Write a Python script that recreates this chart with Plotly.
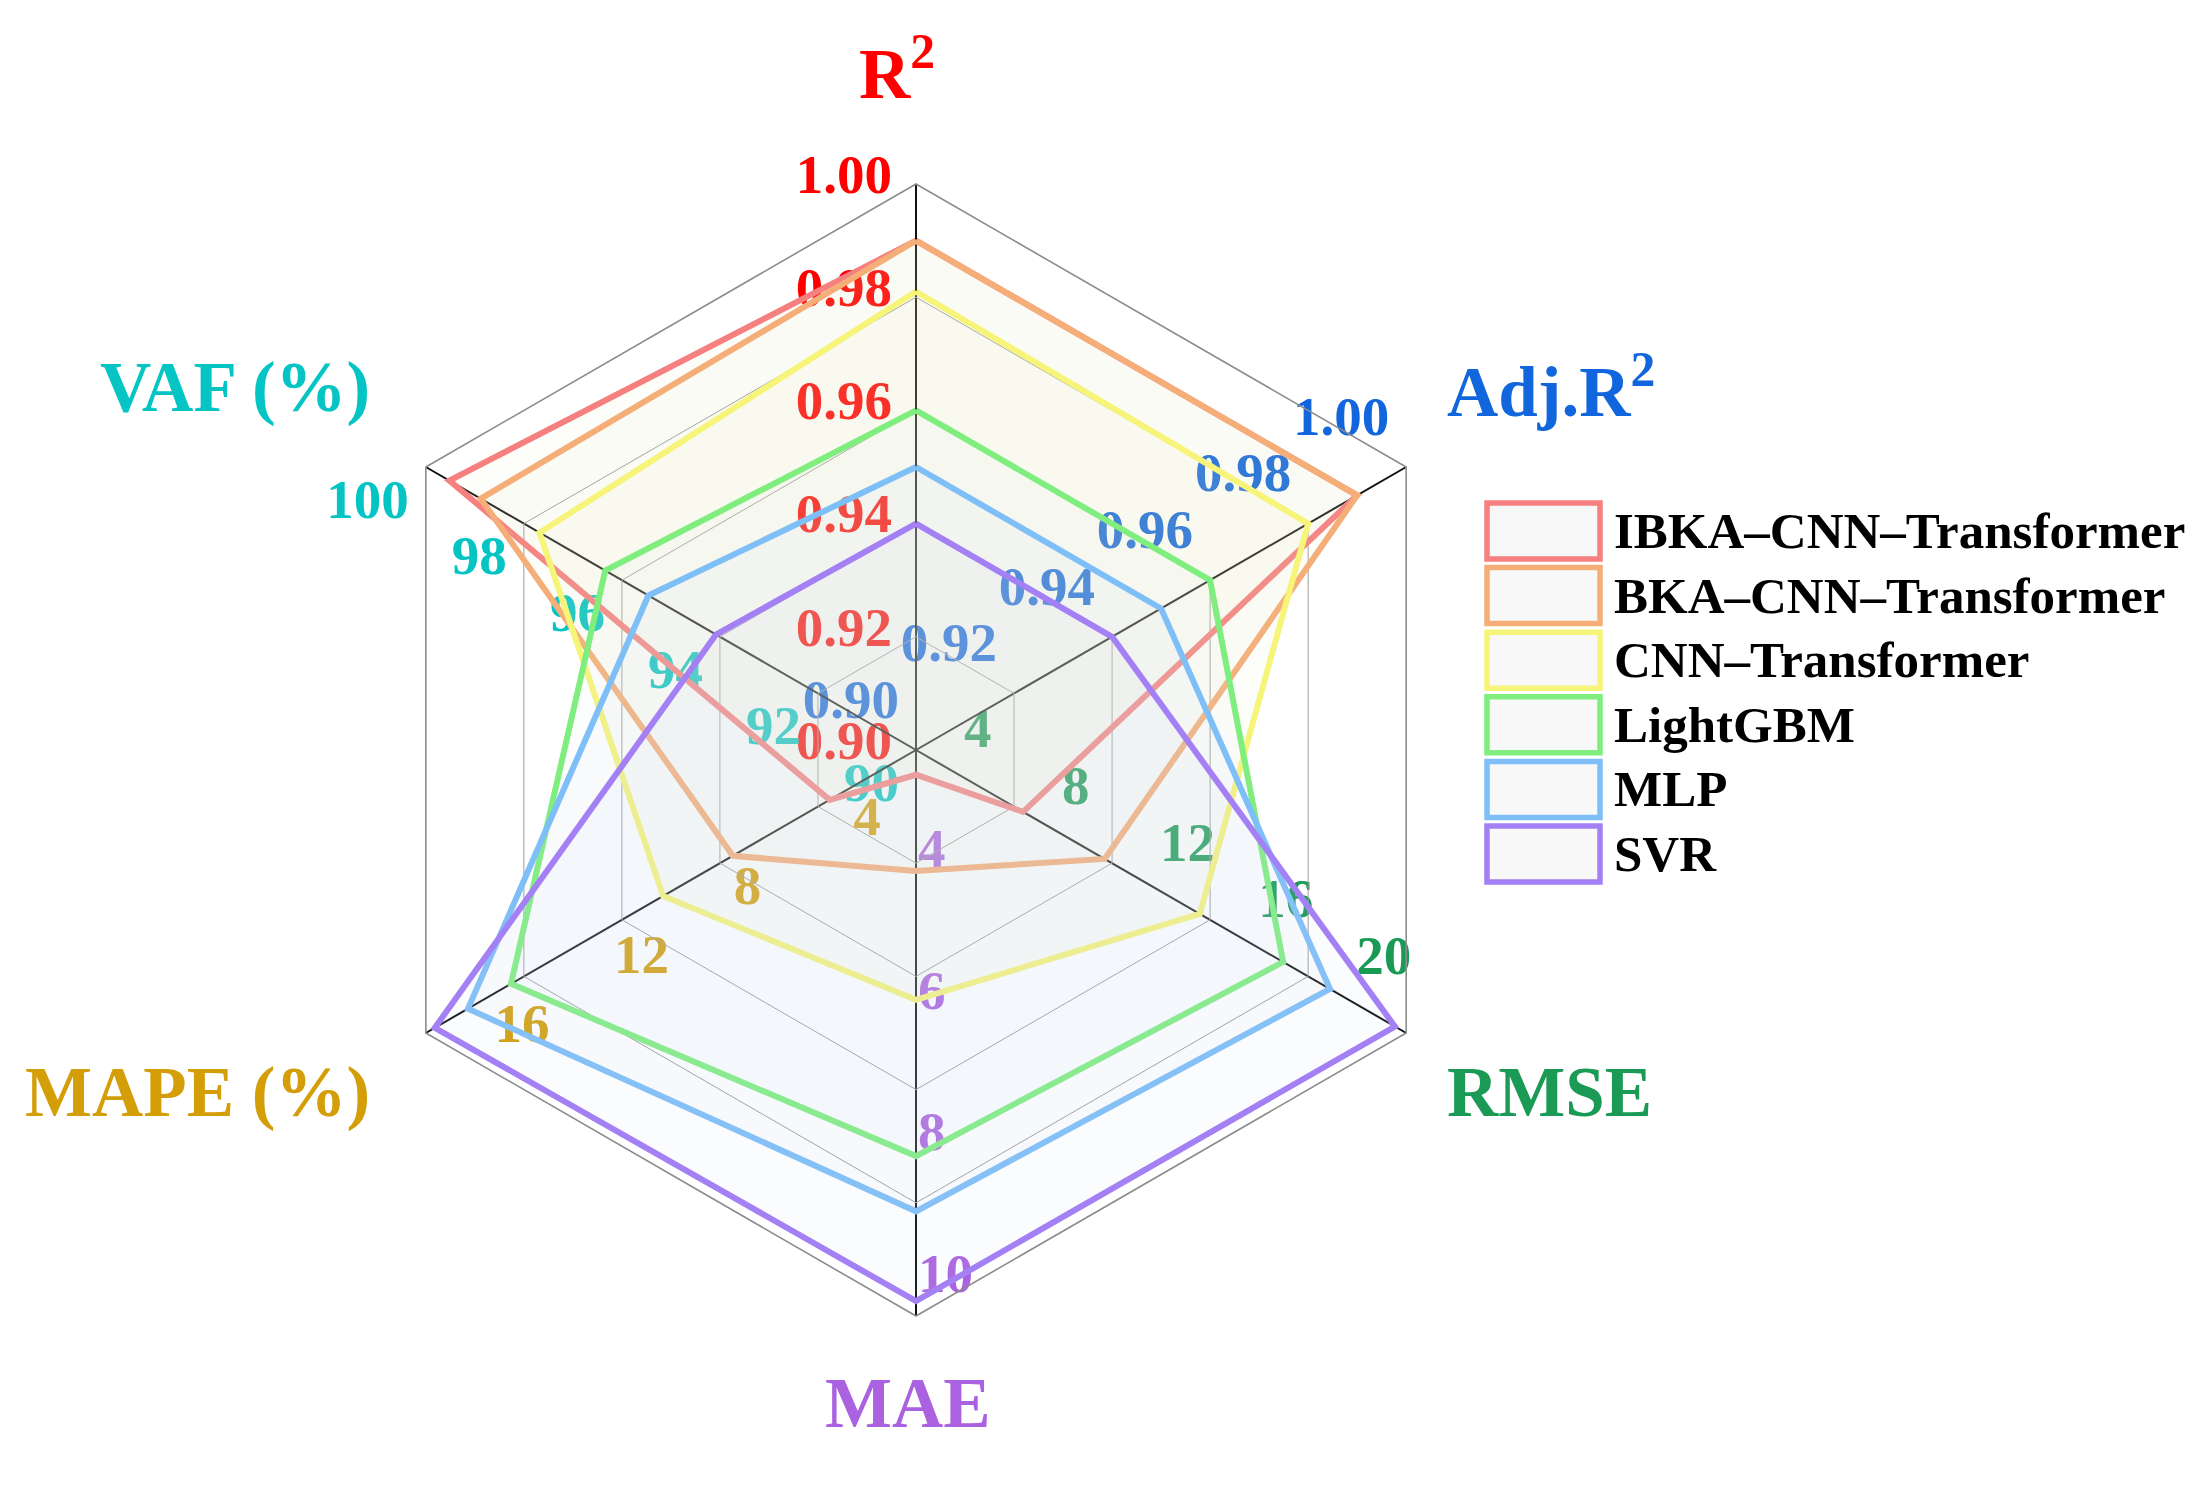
import math
import plotly.graph_objects as go

# ---------------- data ----------------
axes = ["R²", "Adj.R²", "RMSE", "MAE", "MAPE (%)", "VAF (%)"]
axis_titles = ["R<sup>2</sup>", "Adj.R<sup>2</sup>", "RMSE", "MAE", "MAPE (%)", "VAF (%)"]
axis_min = [0.90, 0.90, 0.0, 2.0, 2.0, 90.0]
axis_max = [1.00, 1.00, 20.0, 10.0, 18.4, 100.0]
axis_ticks = [
    [0.90, 0.92, 0.94, 0.96, 0.98, 1.00],
    [0.90, 0.92, 0.94, 0.96, 0.98, 1.00],
    [4, 8, 12, 16, 20],
    [4, 6, 8, 10],
    [4, 8, 12, 16],
    [90, 92, 94, 96, 98, 100],
]
axis_tick_text = [
    ["0.90", "0.92", "0.94", "0.96", "0.98", "1.00"],
    ["0.90", "0.92", "0.94", "0.96", "0.98", "1.00"],
    ["4", "8", "12", "16", "20"],
    ["4", "6", "8", "10"],
    ["4", "8", "12", "16"],
    ["90", "92", "94", "96", "98", "100"],
]

models = ["IBKA–CNN–Transformer", "BKA–CNN–Transformer", "CNN–Transformer",
          "LightGBM", "MLP", "SVR"]
r2 = [0.990, 0.990, 0.981, 0.960, 0.950, 0.940]
adj_r2 = [0.990, 0.990, 0.980, 0.960, 0.950, 0.940]
rmse = [4.37, 7.70, 11.58, 14.98, 16.89, 19.54]
mae = [2.35, 3.71, 5.53, 7.74, 8.52, 9.79]
mape = [4.89, 8.13, 10.46, 15.55, 16.99, 18.10]
vaf = [99.52, 98.88, 97.68, 96.34, 95.46, 94.08]
metric_values = [r2, adj_r2, rmse, mae, mape, vaf]

# ---------------- style ----------------
W, H = 2205, 1492
CX, CY, RPX = 908, 742, 566          # polar centre / radius in pixels
LABEL_SCALE = 1.2                    # label subplot extends beyond the grid
FONT = "Liberation Serif"
model_colors = ["#F67F7F", "#F5AE78", "#F7F47A", "#7FEE7F", "#7FBFF7", "#A480F5"]
fill_colors = ["rgba(232,224,196,0.08)", "rgba(232,226,196,0.08)",
               "rgba(234,234,196,0.08)", "rgba(214,230,228,0.08)",
               "rgba(206,222,242,0.08)", "rgba(210,216,242,0.08)"]
axis_colors = ["#FF0000", "#1166DD", "#1A9A55", "#AA62E0", "#D49E08", "#05C4C4"]
# label anchor offsets in px (dx right, dy down) and text position
label_style = [
    (-24, -5, "middle left"),
    (-17, -46, "middle left"),
    (-50, -73, "middle right"),
    (2, -38, "middle right"),
    (-3, 37, "middle right"),
    (-17, 37, "middle left"),
]
title_pos = [  # (x px, y px, xanchor)
    (889, 60, "center"),
    (1437, 378, "left"),
    (1437, 1084, "left"),
    (900, 1395, "center"),
    (364, 1084, "right"),
    (364, 380, "right"),
]

def pdom(c, half, total):
    return [(c - half) / total, (c + half) / total]

grid_dom = dict(x=pdom(CX, RPX, W), y=pdom(H - CY, RPX, H))
label_dom = dict(x=pdom(CX, RPX * LABEL_SCALE, W), y=pdom(H - CY, RPX * LABEL_SCALE, H))

fig = go.Figure()

# ---- tick labels (bottom subplot "polar", numeric angle) ----
for i, ax in enumerate(axes):
    lo, hi = axis_min[i], axis_max[i]
    dx, dy, pos = label_style[i]
    th = math.radians(60 * i)
    rr, tt = [], []
    for t in axis_ticks[i]:
        f = (t - lo) / (hi - lo)
        x = f * RPX * math.sin(th) + dx
        y = f * RPX * math.cos(th) - dy
        rr.append(math.hypot(x, y) / RPX)
        tt.append(math.degrees(math.atan2(x, y)) % 360)
    fig.add_trace(go.Scatterpolar(
        r=rr, theta=tt, mode="text", text=axis_tick_text[i],
        textposition=pos, cliponaxis=False, subplot="polar",
        textfont=dict(family=FONT, size=55, color=axis_colors[i], weight="bold"),
        showlegend=False, hoverinfo="skip"))

# ---- series polygons (top subplot "polar2", category angle) ----
for k, name in enumerate(models):
    rv = [(metric_values[i][k] - axis_min[i]) / (axis_max[i] - axis_min[i])
          for i in range(len(axes))]
    fig.add_trace(go.Scatterpolar(
        r=rv + rv[:1], theta=axes + axes[:1], mode="lines", name=name,
        fill="toself", fillcolor=fill_colors[k],
        line=dict(color=model_colors[k], width=6), subplot="polar2",
        showlegend=False))

fig.update_layout(
    width=W, height=H, paper_bgcolor="white",
    margin=dict(l=0, r=0, t=0, b=0, autoexpand=False),
    polar=dict(
        domain=label_dom, bgcolor="white",
        angularaxis=dict(type="linear", thetaunit="degrees", rotation=90,
                         direction="clockwise", visible=False),
        radialaxis=dict(range=[0, LABEL_SCALE], visible=False),
    ),
    polar2=dict(
        domain=grid_dom, bgcolor="rgba(0,0,0,0)", gridshape="linear",
        angularaxis=dict(type="category", categoryarray=axes, rotation=90,
                         direction="clockwise", showticklabels=False, ticks="",
                         showgrid=True, gridcolor="#111111", gridwidth=2.2,
                         showline=True, linecolor="#8c8c8c", linewidth=1.6),
        radialaxis=dict(range=[0, 1], tickvals=[0.2, 0.4, 0.6, 0.8],
                        showticklabels=False, ticks="", showline=False,
                        gridcolor="#9c9c9c", gridwidth=1.4),
    ),
)

# ---- axis titles ----
for i, ttl in enumerate(axis_titles):
    px, py, xa = title_pos[i]
    fig.add_annotation(x=px / W, y=1 - py / H, xref="paper", yref="paper",
                       text=f"<b>{ttl}</b>", showarrow=False, xanchor=xa,
                       yanchor="middle",
                       font=dict(family=FONT, size=71, color=axis_colors[i]))

# ---- legend (boxes drawn in paper space) ----
LX0, LX1, LY0, LDY, LH, LTX = 1479, 1592, 495, 64.6, 56, 1604
for k, name in enumerate(models):
    y0 = LY0 + k * LDY
    fig.add_shape(type="rect", xref="paper", yref="paper",
                  x0=LX0 / W, x1=LX1 / W, y0=1 - y0 / H, y1=1 - (y0 + LH) / H,
                  line=dict(color=model_colors[k], width=5.5), fillcolor="#F8F8F8")
    fig.add_annotation(x=LTX / W, y=1 - (y0 + LH / 2) / H, xref="paper", yref="paper",
                       text=f"<b>{name}</b>", showarrow=False, xanchor="left",
                       yanchor="middle", font=dict(family=FONT, size=51, color="black"))

fig.write_html("out.html")
